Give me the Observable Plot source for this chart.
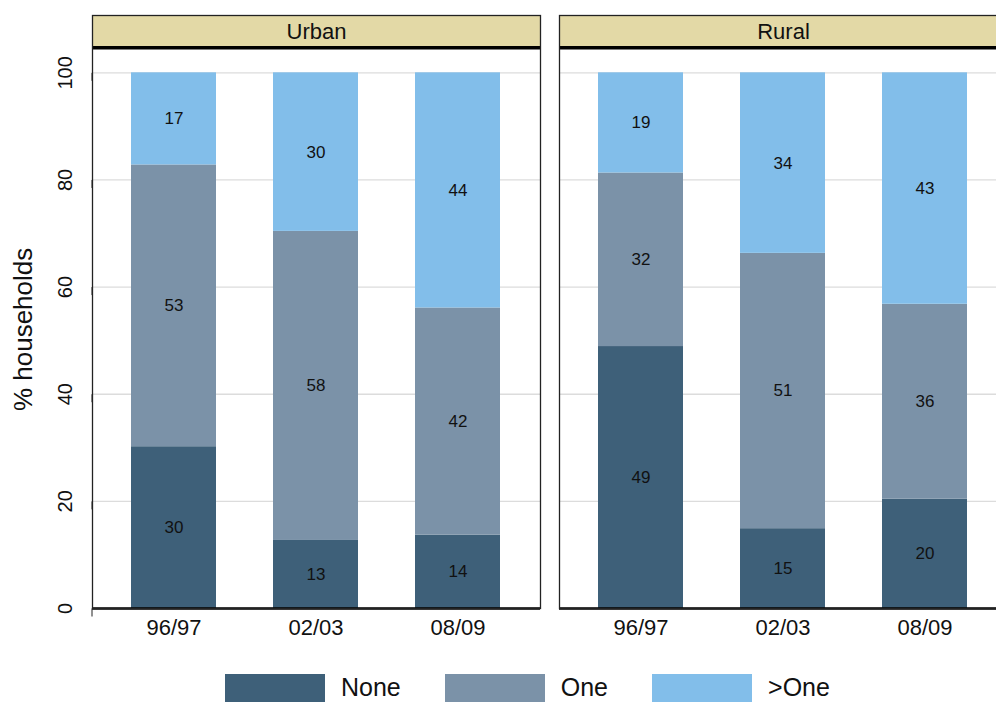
<!DOCTYPE html>
<html>
<head>
<meta charset="utf-8">
<script src="https://cdn.jsdelivr.net/npm/d3@7"></script>
<script src="https://cdn.jsdelivr.net/npm/@observablehq/plot@0.6"></script>
<style>
  body { margin: 0; background: white; overflow: hidden; font-family: "Liberation Sans", Arial, sans-serif; }
  #chart { position: relative; width: 996px; height: 704px; }
  #legend { position: absolute; left: 225px; top: 673px; display: flex; align-items: center; }
  .item { display: flex; align-items: center; margin-right: 44px; }
  .swatch { width: 100px; height: 28px; }
  .label { margin-left: 16px; font-size: 25px; color: #111; }
</style>
</head>
<body>
<div id="chart"></div>
<script>
// panels, periods and categories
const areas = ["Urban", "Rural"];
const periods = ["96/97", "02/03", "08/09"];
const categories = ["None", "One", ">One"];
const colors = ["#3e6079", "#7b92a8", "#82beea"];

// % households per category
const urbanNone = [30.2, 12.7, 13.7];
const urbanOne  = [52.6, 57.7, 42.4];
const urbanMore = [17.2, 29.6, 43.9];
const ruralNone = [48.9, 14.9, 20.4];
const ruralOne  = [32.4, 51.4, 36.4];
const ruralMore = [18.7, 33.7, 43.2];

const yTicks = [0, 20, 40, 60, 80, 100];

// build long table, category order gives the stacking order
const series = {
  Urban: [urbanNone, urbanOne, urbanMore],
  Rural: [ruralNone, ruralOne, ruralMore]
};
let data = [];
areas.forEach(function(area) {
  categories.forEach(function(cat, ci) {
    periods.forEach(function(p, pi) {
      data.push({area: area, period: p, cat: cat, value: series[area][ci][pi]});
    });
  });
});

const headerBottom = 104.7;
const headerTop = 110.7;

let chart = Plot.plot({
  width: 1008,
  height: 650,
  marginLeft: 92,
  marginRight: 0,
  marginTop: 15,
  marginBottom: 42,
  style: {fontFamily: "Liberation Sans, Arial, sans-serif", maxWidth: "none", color: "#111"},
  fx: {domain: areas, paddingInner: 0.04, paddingOuter: 0, axis: null},
  x: {domain: periods, paddingInner: 0.4, paddingOuter: 0.27},
  y: {domain: [0, headerTop]},
  color: {domain: categories, range: colors},
  marks: [
    Plot.gridY(yTicks, {stroke: "#dcdcdc", strokeOpacity: 1, strokeWidth: 1.3}),
    Plot.rect(areas, {fx: d => d, y1: headerBottom, y2: headerTop, fill: "#e3d9a6"}),
    Plot.text(areas, {fx: d => d, y: (headerBottom + headerTop) / 2, text: d => d, fontSize: 22, fill: "#111"}),
    Plot.barY(data, Plot.stackY({fx: "area", x: "period", y: "value", z: "cat", fill: "cat"})),
    Plot.text(data, Plot.stackY({fx: "area", x: "period", y: "value", z: "cat", text: d => Math.round(d.value), fontSize: 17, fill: "#111"})),
    Plot.ruleY(areas, {fx: d => d, y: headerBottom, stroke: "#000", strokeWidth: 3.5}),
    Plot.ruleY(areas, {fx: d => d, y: 0, stroke: "#000", strokeWidth: 2.5}),
    Plot.frame({stroke: "#222", strokeWidth: 1.3}),
    Plot.axisY({ticks: yTicks, tickSize: 8, tickPadding: 19, rotate: -90, textAnchor: "middle", lineAnchor: "middle", fontSize: 20, label: null, stroke: "#222"}),
    Plot.axisX({tickSize: 0, tickPadding: 11, fontSize: 22, label: null}),
    Plot.text(["% households"], {fx: () => "Urban", frameAnchor: "left", y: 52.1, dx: -69, rotate: -90, textAnchor: "middle", lineAnchor: "middle", text: d => d, fontSize: 26, fill: "#111"})
  ]
});

d3.select("#chart").append(() => chart);

// legend below the plot
let legend = d3.select("#chart").append("div").attr("id", "legend");
categories.forEach(function(cat, i) {
  let item = legend.append("div").attr("class", "item");
  item.append("div").attr("class", "swatch").style("background", colors[i]);
  item.append("span").attr("class", "label").text(cat);
});
</script>
</body>
</html>
